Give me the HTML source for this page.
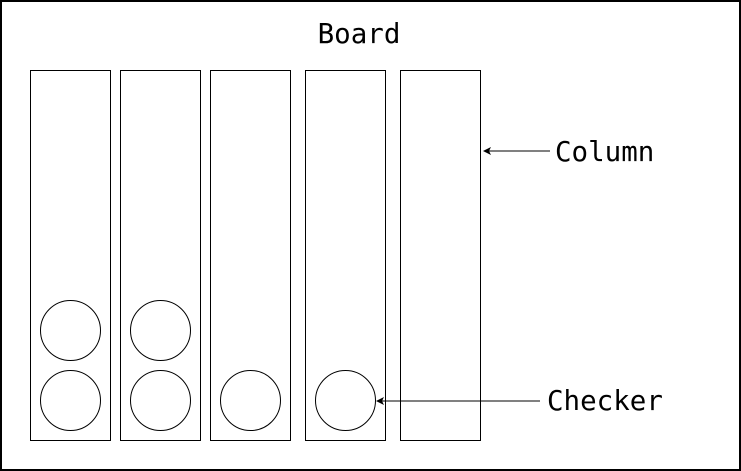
<!DOCTYPE html>
<html><head><meta charset="utf-8"><style>
html,body{margin:0;padding:0;background:#fff;}
svg{display:block;}
text{font-family:"DejaVu Sans Mono","Liberation Mono",monospace;font-size:27.5px;fill:#000;}
</style></head><body>
<svg width="741" height="471" viewBox="0 0 741 471">
<defs><marker id="ah" markerWidth="8" markerHeight="8" refX="7" refY="4" orient="auto"><path d="M0,0 L8,4 L0,8 L2,4 z" fill="#000"/></marker></defs>
<rect x="1" y="1" width="739" height="469" fill="#fff" stroke="#000" stroke-width="2"/>
<text x="359" y="43" text-anchor="middle">Board</text>
<g id="cols" fill="none" stroke="#000" stroke-width="1"></g>
<line x1="550" y1="151" x2="484" y2="151" stroke="#000" marker-end="url(#ah)"/>
<text x="555" y="161">Column</text>
<line x1="540" y1="401" x2="377" y2="401" stroke="#000" marker-end="url(#ah)"/>
<text x="547" y="410">Checker</text>
</svg>
<script>
const colX=[30,120,210,305,400];
const checkers=[2,2,1,1,0];
const g=document.getElementById('cols');
const NS='http://www.w3.org/2000/svg';
colX.forEach((x,i)=>{
  const r=document.createElementNS(NS,'rect');
  r.setAttribute('x',x+0.5);r.setAttribute('y',70.5);r.setAttribute('width',80);r.setAttribute('height',370);
  
  
  g.appendChild(r);
  for(let k=0;k<checkers[i];k++){
    const c=document.createElementNS(NS,'circle');
    c.setAttribute('cx',x+40.5);c.setAttribute('cy',400.5-k*70);c.setAttribute('r',30);
    
    
    g.appendChild(c);
  }
});
</script>
</body></html>
